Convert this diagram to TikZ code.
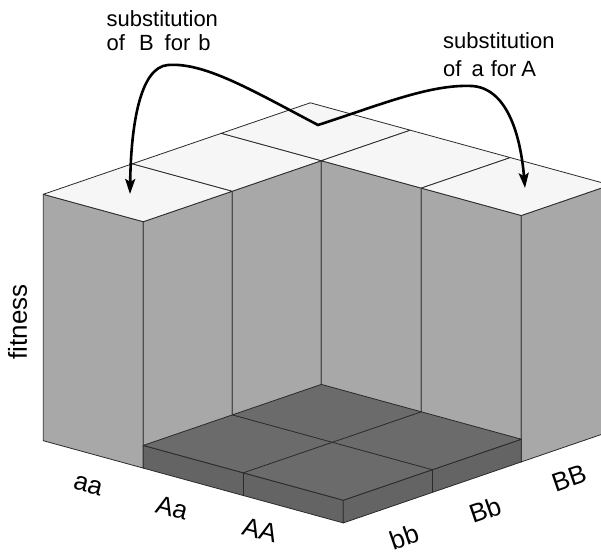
\documentclass[tikz,border=0pt]{standalone}
\usepackage{fontspec}
\setmainfont{Liberation Sans}
\usetikzlibrary{arrows.meta}
\definecolor{sidegray}{HTML}{A8A8A8}
\definecolor{topgray}{HTML}{F6F6F6}
\definecolor{floortopgray}{HTML}{6B6B6B}
\definecolor{floorsidegray}{HTML}{646464}
\definecolor{edgegray}{HTML}{2A2A2A}
\tikzset{
  faceedge/.style={draw=edgegray, line width=0.8pt, line join=round},
  sideface/.style={faceedge, fill=sidegray},
  topface/.style={faceedge, fill=topgray},
  floortop/.style={faceedge, fill=floortopgray},
  floorside/.style={faceedge, fill=floorsidegray},
  subarrow/.style={line width=2.6pt, line join=miter,
    {Stealth[length=15pt,width=10pt,inset=3pt]}-{Stealth[length=15pt,width=10pt,inset=3pt]}},
  axislbl/.style={font=\fontsize{26}{30}\selectfont, inner sep=0pt},
  sublbl/.style={font=\fontsize{22}{26}\selectfont, inner sep=0pt, anchor=base west},
}
\begin{document}
\begin{tikzpicture}[x=1pt,y=-1pt]
\useasboundingbox (0,0) rectangle (601,555);
\clip (0,0) rectangle (601,555);
% grid points: T = bar top, F = floor top, G = ground
\foreach \i in {0,1,2,3}{
  \foreach \j in {0,1,2,3}{
    \coordinate (T\i\j) at ({43.3+100*\i+89*\j},{194.3+27.4*\i-30.5*\j});
    \coordinate (F\i\j) at ({43.3+100*\i+89*\j},{194.3+27.4*\i-30.5*\j+223.7});
    \coordinate (G\i\j) at ({43.3+100*\i+89*\j},{194.3+27.4*\i-30.5*\j+246.4});
  }
}
% tall bar side faces
\path[sideface] (T00) -- (T10) -- (G10) -- (G00) -- cycle;
\path[sideface] (T10) -- (T11) -- (G11) -- (G10) -- cycle;
\path[sideface] (T11) -- (T12) -- (G12) -- (G11) -- cycle;
\path[sideface] (T12) -- (T22) -- (G22) -- (G12) -- cycle;
\path[sideface] (T22) -- (T32) -- (G32) -- (G22) -- cycle;
\path[sideface] (T32) -- (T33) -- (G33) -- (G32) -- cycle;
% top faces
\path[topface] (T00) -- (T10) -- (T11) -- (T01) -- cycle;
\path[topface] (T01) -- (T11) -- (T12) -- (T02) -- cycle;
\path[topface] (T02) -- (T12) -- (T13) -- (T03) -- cycle;
\path[topface] (T12) -- (T22) -- (T23) -- (T13) -- cycle;
\path[topface] (T22) -- (T32) -- (T33) -- (T23) -- cycle;
% low floor block
\path[floorside] (F10) -- (F30) -- (G30) -- (G10) -- cycle;
\draw[faceedge] (F20) -- (G20);
\path[floorside] (F30) -- (F32) -- (G32) -- (G30) -- cycle;
\draw[faceedge] (F31) -- (G31);
\path[floortop] (F10) -- (F30) -- (F32) -- (F12) -- cycle;
\draw[faceedge] (F20) -- (F22);
\draw[faceedge] (F11) -- (F31);
% labels
\node[axislbl, rotate=90] (fit) at (17.5,322) {fitness};
\node[axislbl, rotate=-15] (laa) at (88,486) {aa};
\node[axislbl, rotate=-15] (lAa) at (172,508) {Aa};
\node[axislbl, rotate=-15] (lAA) at (260,530) {AA};
\node[axislbl, rotate=19] (lbb) at (404,537) {bb};
\node[axislbl, rotate=19] (lBb) at (485,510) {Bb};
\node[axislbl, rotate=19] (lBB) at (569,478) {BB};
\node[sublbl] (s1a) at (106.5,26) {substitution};
\node[sublbl] (s1b) at (106.5,50) {of\hspace{14pt}B\hspace{11pt}for\hspace{8pt}b};
\node[sublbl] (s2a) at (443,48) {substitution};
\node[sublbl] (s2b) at (443,76.5) {of\hspace{10pt}a\hspace{7pt}for\hspace{5pt}A};
% arrows
\coordinate (mid) at (318,125);
\coordinate (tipL) at (130,194);
\coordinate (tipR) at (525,188);
\draw[subarrow] (tipL) .. controls (131,125) and (140,67) .. (168,65)
  .. controls (205,62) and (255,92) .. (mid)
  .. controls (380,105) and (430,84) .. (472,86)
  .. controls (505,88) and (520,130) .. (tipR);
\end{tikzpicture}
\end{document}
